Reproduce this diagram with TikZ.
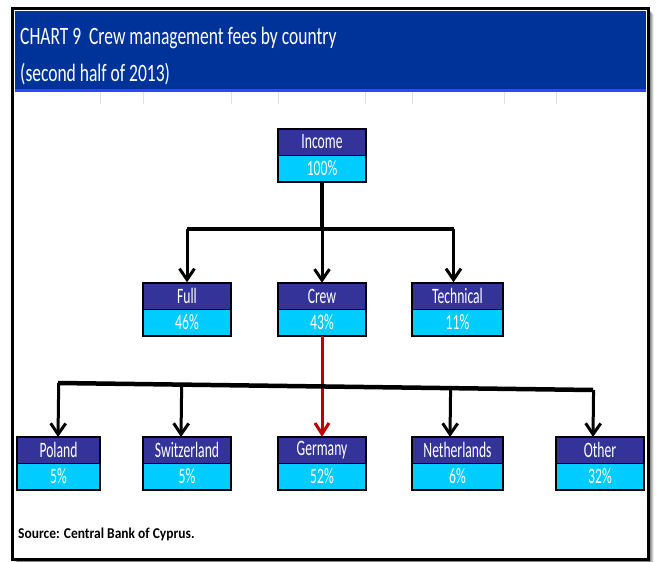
\documentclass[tikz,border=0pt]{standalone}
\usepackage{fontspec}
\setmainfont{Carlito}
\newfontfamily\boxfont[FakeStretch=0.62]{Carlito}
\newfontfamily\titlefont[FakeStretch=0.70]{Carlito}
\newfontfamily\srcfont[FakeStretch=0.9]{Carlito}
\usetikzlibrary{arrows.meta,calc}
\definecolor{titleblue}{HTML}{003399}
\definecolor{titlestrip}{HTML}{3344FF}
\definecolor{boxdark}{HTML}{333399}
\definecolor{boxcyan}{HTML}{00CCFF}
\definecolor{gridgray}{HTML}{E0E0E0}
\definecolor{arrred}{HTML}{C00000}
\tikzset{
  boxtop/.style={rectangle, fill=boxdark, text=white, inner sep=0pt, font=\boxfont\fontsize{22}{22}\selectfont},
  boxbot/.style={rectangle, fill=boxcyan, text=white, inner sep=0pt, font=\boxfont\fontsize{22}{22}\selectfont},
  boxframe/.style={draw=black, line width=1.6pt},
  conn/.style={draw=black, line width=3.5pt},
  barline/.style={draw=black, line width=4.5pt},
  arr/.style={draw=black, line width=3pt, -{Straight Barb[length=11pt,width=15pt,line width=3pt]}},
  redarr/.style={draw=arrred, line width=3pt, -{Straight Barb[length=11pt,width=14pt,line width=3pt]}},
}
% #1 name, #2 xl, #3 xr, #4 yt, #5 ym, #6 yb, #7 label, #8 value
\newcommand\orgbox[8]{%
  \node[boxtop, minimum width={(#3-#2)*1pt}, minimum height={(#5-#4)*1pt}] (#1) at ({(#2+#3)/2},{(#4+#5)/2}) {#7};
  \node[boxbot, minimum width={(#3-#2)*1pt}, minimum height={(#6-#5)*1pt}] (#1v) at ({(#2+#3)/2},{(#5+#6)/2}) {#8};
  \draw[boxframe] (#1.north west) rectangle (#1v.south east);
  \draw[draw=black, line width=0.6pt] (#1.south west) -- (#1.south east);
}
\begin{document}
\begin{tikzpicture}[x=1pt,y=-1pt]
\useasboundingbox (0,0) rectangle (657,562);
\fill[white] (0,0) rectangle (657,562);
% frame shadow
\foreach \o/\op in {6/0.08,5/0.12,4/0.16,3/0.22,2/0.3}{
  \fill[black, opacity=\op] (12+\o,8+\o) rectangle (648+\o,559+\o);
}
\fill[white] (12,8) rectangle (648,559);
\draw[black, line width=3pt] (12,8) rectangle (648,559);
% title bar
\fill[titleblue] (14.5,11) rectangle (645.5,92);
\fill[titlestrip] (14.5,88.5) rectangle (645.5,92);
\node[anchor=base west, text=white, inner sep=0pt, font=\titlefont\fontsize{25}{25}\selectfont] (t1) at (20,44) {CHART 9\ \ Crew management fees by country};
\node[anchor=base west, text=white, inner sep=0pt, font=\titlefont\fontsize{25}{25}\selectfont] (t2) at (20,81) {(second half of 2013)};
% faint grid ticks
\foreach \gx in {100,143,231,278,365,412,504,556}{
  \draw[gridgray, line width=0.8pt] (\gx,92) -- (\gx,104);
}
% boxes
\orgbox{inc}{278}{366}{129}{155}{182}{Income}{100\%}
\orgbox{full}{143}{231}{283}{309}{336}{Full}{46\%}
\orgbox{crew}{278}{366}{283}{309}{336}{Crew}{43\%}
\orgbox{tech}{412}{503}{283}{309}{336}{Technical}{11\%}
\orgbox{pol}{17}{100}{437}{463}{490}{Poland}{5\%}
\orgbox{swi}{143}{231}{437}{463}{490}{Switzerland}{5\%}
\orgbox{ger}{278}{366}{437}{463}{490}{Germany}{52\%}
\orgbox{net}{412}{503}{437}{463}{490}{Netherlands}{6\%}
\orgbox{oth}{556}{644}{437}{463}{490}{Other}{32\%}
% first level connectors
\coordinate (b1) at (322,229);
\coordinate (fullin) at ($(full.north)+(0,-0.5)$);
\coordinate (techin) at ($(tech.north)+(-4,-0.5)$);
\draw[conn] (incv.south) -- (b1);
\draw[barline] (fullin |- b1) -- (techin |- b1);
\draw[arr] (fullin |- b1) -- (fullin);
\draw[arr] (crew.north |- b1) -- (crew.north);
\draw[arr] (techin |- b1) -- (techin);
% second level
\coordinate (bl) at (58,383);
\coordinate (br) at (593,390);
\coordinate (polin) at (58,437);
\coordinate (swiin) at (181,437);
\coordinate (netin) at (450,437);
\coordinate (othin) at (593,437);
\draw[redarr] (crewv.south) -- (ger.north);
\draw[barline] (bl) -- (br);
\draw[arr] ($(bl)!(polin)!(br)$) -- (polin);
\draw[arr] ($(bl)!(swiin)!(br)$) -- (swiin);
\draw[arr] ($(bl)!(netin)!(br)$) -- (netin);
\draw[arr] ($(bl)!(othin)!(br)$) -- (othin);
% source
\node[anchor=base west, inner sep=0pt, font=\srcfont\bfseries\fontsize{15}{15}\selectfont] (src) at (18,538) {Source: Central Bank of Cyprus.};
\end{tikzpicture}
\end{document}
